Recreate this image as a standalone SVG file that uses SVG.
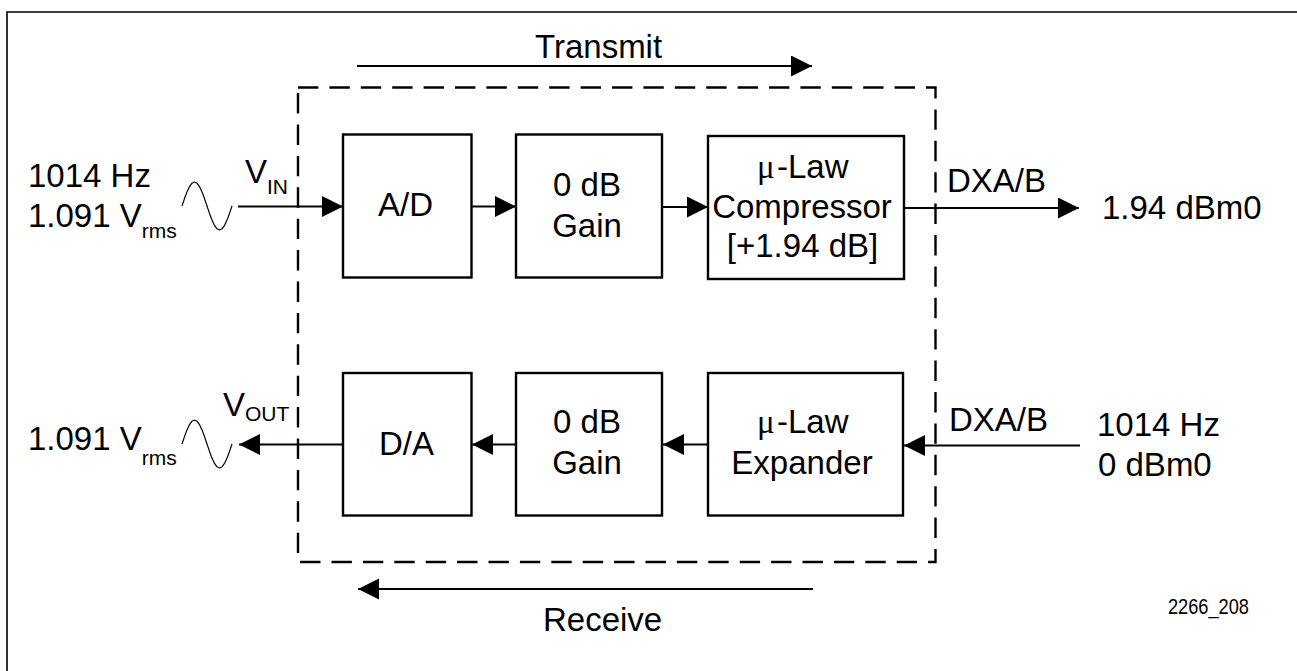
<svg xmlns="http://www.w3.org/2000/svg" width="1297" height="671" viewBox="0 0 1297 671">
<style>
text{font-family:"Liberation Sans",Arial,sans-serif;font-size:33px;fill:#000}
.sub{font-size:21px}
.mu{font-family:"Liberation Serif","DejaVu Serif",serif}
.c{text-anchor:middle}
.box{fill:#fff;stroke:#000;stroke-width:2.4}
.ln{stroke:#000;stroke-width:2;fill:none}
.dash{fill:none;stroke:#000;stroke-width:2.4;stroke-dasharray:20.4 11}
.sine{fill:none;stroke:#000;stroke-width:1.2;stroke-linejoin:round}
.frame{stroke:#000;stroke-width:1.6;fill:none}
</style>
<defs>
<marker id="ah" markerUnits="userSpaceOnUse" markerWidth="22" markerHeight="22" refX="21" refY="10.5" orient="auto">
<path d="M0,0 L21,10.5 L0,21 z" fill="#000"/>
</marker>
<polyline id="sine" class="sine" points="0,0 2.5,-7.42 5,-14.11 7.5,-19.42 10,-22.83 12.5,-24 15,-22.83 17.5,-19.42 20,-14.11 22.5,-7.42 25,0 27.5,7.42 30,14.11 32.5,19.42 35,22.83 37.5,24 40,22.83 42.5,19.42 45,14.11 47.5,7.42 50,0"/>
</defs>

<g id="frame">
<path class="frame" d="M7,671 L7,12 L1297,12"/>
</g>

<g id="boundary">
<path class="dash" d="M298,87.5 H935.5 V562 H298 Z"/>
</g>

<g id="connectors">
<line class="ln" x1="238" y1="206.5" x2="343" y2="206.5" marker-end="url(#ah)"/>
<line class="ln" x1="471" y1="206.5" x2="516" y2="206.5" marker-end="url(#ah)"/>
<line class="ln" x1="662" y1="207" x2="708" y2="207" marker-end="url(#ah)"/>
<line class="ln" x1="904" y1="208" x2="1079" y2="208" marker-end="url(#ah)"/>
<line class="ln" x1="1080" y1="445.5" x2="904" y2="445.5" marker-end="url(#ah)"/>
<line class="ln" x1="708" y1="444.5" x2="663" y2="444.5" marker-end="url(#ah)"/>
<line class="ln" x1="516" y1="444.5" x2="472" y2="444.5" marker-end="url(#ah)"/>
<line class="ln" x1="343" y1="444.5" x2="239" y2="444.5" marker-end="url(#ah)"/>
<line class="ln" x1="357" y1="66" x2="812" y2="66" marker-end="url(#ah)"/>
<line class="ln" x1="813" y1="589" x2="358" y2="589" marker-end="url(#ah)"/>
</g>

<g id="sources">
<use href="#sine" x="182" y="206"/>
<use href="#sine" x="182" y="444"/>
</g>

<g id="ad">
<rect class="box" x="343" y="134.5" width="128.5" height="143"/>
<text class="c" x="405.5" y="216">A/D</text>
</g>
<g id="gain-tx">
<rect class="box" x="516" y="134.5" width="146" height="143"/>
<text class="c" x="587" y="196">0 dB</text>
<text class="c" x="587" y="237">Gain</text>
</g>
<g id="compressor">
<rect class="box" x="708" y="136" width="196" height="143"/>
<text x="757" y="178"><tspan class="mu">μ</tspan></text>
<text x="777" y="178">-Law</text>
<text class="c" x="802" y="218">Compressor</text>
<text class="c" x="802.5" y="257">[+1.94 dB]</text>
</g>

<g id="da">
<rect class="box" x="343" y="373" width="128.5" height="142.5"/>
<text class="c" x="406.5" y="455">D/A</text>
</g>
<g id="gain-rx">
<rect class="box" x="516" y="373" width="146" height="142.5"/>
<text class="c" x="587" y="433">0 dB</text>
<text class="c" x="587" y="474">Gain</text>
</g>
<g id="expander">
<rect class="box" x="708" y="373" width="195" height="142.5"/>
<text x="757" y="433"><tspan class="mu">μ</tspan></text>
<text x="777" y="433">-Law</text>
<text class="c" x="802" y="474">Expander</text>
</g>

<g id="labels">
<text x="535" y="58">Transmit</text>
<text x="543" y="631">Receive</text>
<text x="28" y="187">1014 Hz</text>
<text x="28" y="227">1.091 V<tspan class="sub" dy="11">rms</tspan></text>
<text x="245" y="183">V<tspan class="sub" dy="11">IN</tspan></text>
<text x="28" y="450">1.091 V<tspan class="sub" dy="15">rms</tspan></text>
<text x="223" y="416">V<tspan class="sub" dy="5">OUT</tspan></text>
<text x="947" y="192">DXA/B</text>
<text x="1102" y="219">1.94 dBm0</text>
<text x="949" y="431">DXA/B</text>
<text x="1097" y="436">1014 Hz</text>
<text x="1098" y="476">0 dBm0</text>
<text x="1168" y="614" style="font-size:22px" textLength="81" lengthAdjust="spacingAndGlyphs">2266_208</text>
</g>
</svg>
